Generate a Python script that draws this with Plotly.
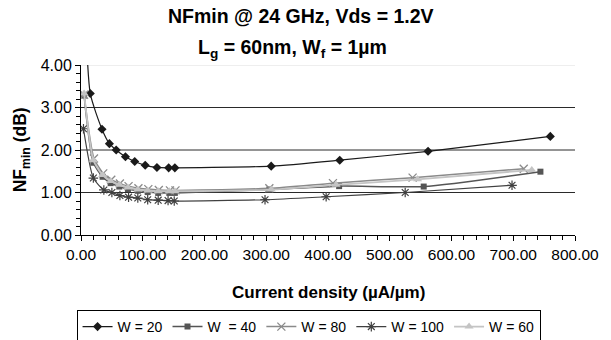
import plotly.graph_objects as go

# ---- data ----
x_w20 = [5, 15, 34, 46, 57, 72, 87, 104, 123, 142, 152, 308, 419, 562, 760]
y_w20 = [6.3, 3.33, 2.49, 2.15, 2.00, 1.84, 1.73, 1.64, 1.59, 1.58, 1.58, 1.62, 1.76, 1.97, 2.32]

x_w40 = [5, 20, 35, 48, 62, 76, 92, 108, 125, 143, 152, 305, 418, 555, 744]
y_w40 = [3.28, 1.70, 1.37, 1.22, 1.14, 1.08, 1.04, 1.01, 0.99, 0.99, 0.99, 1.07, 1.15, 1.14, 1.49]

x_w80 = [5, 21, 36, 49, 63, 77, 93, 109, 126, 144, 153, 305, 408, 537, 717]
y_w80 = [3.30, 1.80, 1.45, 1.30, 1.21, 1.15, 1.10, 1.08, 1.06, 1.05, 1.05, 1.10, 1.22, 1.35, 1.56]

x_w100 = [4, 20, 37, 50, 63, 77, 92, 108, 125, 141, 151, 298, 397, 525, 698]
y_w100 = [2.50, 1.34, 1.06, 1.00, 0.93, 0.89, 0.87, 0.83, 0.82, 0.81, 0.80, 0.83, 0.90, 1.00, 1.17]

x_w60 = [5, 20, 35, 48, 62, 76, 92, 108, 125, 143, 152, 308, 413, 545, 730]
y_w60 = [3.33, 1.76, 1.41, 1.27, 1.18, 1.12, 1.07, 1.05, 1.03, 1.03, 1.03, 1.07, 1.18, 1.31, 1.53]

series_names = ["W = 20", "W\u00a0 = 40", "W = 80", "W = 100", "W = 60"]
gridline_values = [1, 2, 3]

FONT = "Liberation Sans, Arial, sans-serif"

fig = go.Figure()

styles = [
    (x_w20, y_w20, "#1a1a1a", dict(symbol="diamond", size=7, color="#1a1a1a"), 1.2),
    (x_w40, y_w40, "#555555", dict(symbol="square", size=6, color="#555555"), 1.5),
    (x_w80, y_w80, "#8a8a8a", dict(symbol="x-thin-open", size=8, color="#8a8a8a",
                                  line=dict(width=1.3, color="#8a8a8a")), 1.5),
    (x_w100, y_w100, "#404040", dict(symbol="asterisk-open", size=8, color="#404040",
                                    line=dict(width=1.2, color="#404040")), 1.2),
    (x_w60, y_w60, "#c4c4c4", dict(symbol="triangle-up", size=8, color="#c4c4c4"), 1.8),
]

for (xs, ys, lc, mk, lw), name in zip(styles, series_names):
    fig.add_trace(go.Scatter(
        x=xs, y=ys, name=name, mode="lines+markers",
        line=dict(color=lc, width=lw, shape="spline", smoothing=0.6),
        marker=mk, cliponaxis=True,
    ))

shapes = []
for g in gridline_values:
    shapes.append(dict(type="line", xref="paper", x0=0, x1=1, yref="y", y0=g, y1=g,
                       line=dict(color="#2a2a2a", width=1), layer="below"))
shapes.append(dict(type="line", xref="paper", x0=0, x1=1, yref="y", y0=4, y1=4,
                   line=dict(color="#dddddd", width=1), layer="below"))

# plot area in pixels: x 81..586, y 65..235
def px_x(p):
    return (p - 81) / 505.0

def px_y(p):
    return (235 - p) / 170.0

fig.update_layout(
    width=611, height=340,
    margin=dict(l=81, r=25, t=65, b=105),
    paper_bgcolor="white", plot_bgcolor="white",
    font=dict(family=FONT, size=15, color="black"),
    showlegend=True,
    legend=dict(orientation="h", xref="container", yref="container",
                x=0.505, xanchor="center", y=1 - 310 / 340, yanchor="top",
                bordercolor="black", borderwidth=1, itemwidth=30,
                font=dict(family=FONT, size=14), tracegroupgap=0,
                itemclick=False),
    shapes=shapes,
    annotations=[
        dict(text="<b>NFmin @ 24 GHz, Vds = 1.2V</b>", xref="paper", yref="paper",
             x=px_x(305.5), y=px_y(16), xanchor="center", yanchor="middle", showarrow=False,
             font=dict(family=FONT, size=19.5)),
        dict(text="<b>L<sub>g</sub> = 60nm, W<sub>f</sub> = 1µm</b>", xref="paper", yref="paper",
             x=px_x(297), y=px_y(49), xanchor="center", yanchor="middle", showarrow=False,
             font=dict(family=FONT, size=19.5)),
        dict(text="<b>NF<sub>min</sub> (dB)</b>", xref="paper", yref="paper",
             x=px_x(20), y=0.5, xanchor="center", yanchor="middle", textangle=-90,
             showarrow=False, font=dict(family=FONT, size=17.5)),
        dict(text="<b>Current density (µA/µm)</b>", xref="paper", yref="paper",
             x=0.5, y=px_y(292), xanchor="center", yanchor="middle",
             showarrow=False, font=dict(family=FONT, size=17)),
    ],
)

fig.update_xaxes(
    range=[0, 800], dtick=100, tick0=0, tickformat=".2f",
    showgrid=False, zeroline=False, showline=True, linecolor="black", linewidth=1,
    ticks="outside", ticklen=5, tickcolor="black", tickwidth=1,
    minor=dict(dtick=20, ticks="outside", ticklen=4, tickcolor="black", showgrid=False),
    tickfont=dict(family=FONT, size=15.5), fixedrange=True,
)
fig.update_yaxes(
    range=[0, 4], dtick=1, tick0=0, tickformat=".2f",
    showgrid=False, zeroline=False, showline=True, linecolor="black", linewidth=1,
    ticks="outside", ticklen=5, tickcolor="black", tickwidth=1,
    minor=dict(dtick=0.2, ticks="outside", ticklen=4, tickcolor="black", showgrid=False),
    tickfont=dict(family=FONT, size=16), fixedrange=True,
)

fig.write_html("out.html")
